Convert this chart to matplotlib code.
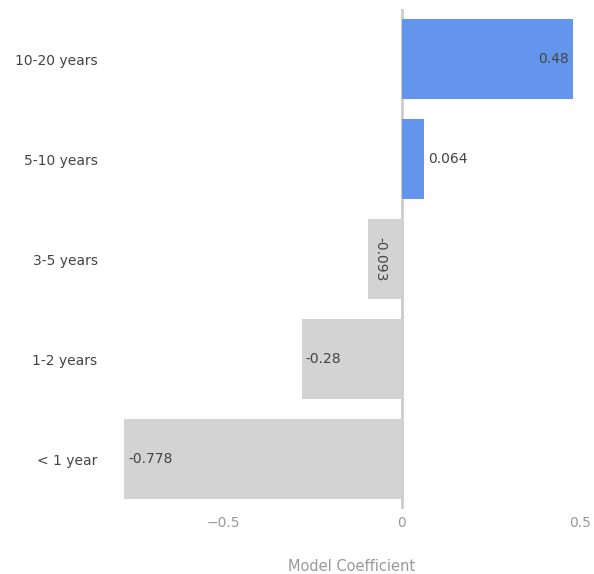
import matplotlib
matplotlib.use("Agg")
import numpy as np
from matplotlib import pyplot as plt

# data, top to bottom
categories = ['10-20 years', '5-10 years', '3-5 years', '1-2 years', '< 1 year']
coefs = [0.48, 0.064, -0.093, -0.28, -0.778]
coef_labels = ['0.48', '0.064', '-0.093', '-0.28', '-0.778']
x_ticks = [-0.5, 0, 0.5]
x_tick_labels = ['\u22120.5', '0', '0.5']

blue = '#6495ed'
grey = '#d3d3d3'
txt = '#444444'

fig = plt.figure(figsize=(5.94, 5.74), dpi=100)
ax = fig.add_axes([124 / 594, 65 / 574, 456 / 594, 500 / 574])

y = np.arange(len(categories))[::-1]
colors = [blue if c > 0 else grey for c in coefs]
ax.barh(y, coefs, height=0.8, color=colors, zorder=2)

ax.axvline(0, color='#cccccc', lw=2, zorder=1)

ax.set_xlim(-0.778, 0.5)
ax.set_ylim(-0.5, len(categories) - 0.5)

ax.set_yticks(y)
ax.set_yticklabels(categories, fontsize=10, color=txt)
ax.set_xticks(x_ticks)
ax.set_xticklabels(x_tick_labels, fontsize=10, color='#999999')
ax.tick_params(axis='y', length=0, pad=19)
ax.tick_params(axis='x', length=0, pad=5)
for s in ax.spines.values():
    s.set_visible(False)

ax.set_xlabel('Model Coefficient', fontsize=10.5, color='#999999', labelpad=21)

# value labels
for yi, c, lab in zip(y, coefs, coef_labels):
    if c >= 0.3:
        ax.annotate(lab, (c, yi), xytext=(-3, 0), textcoords='offset points',
                    ha='right', va='center', fontsize=10, color=txt, zorder=4)
    elif c > 0:
        ax.annotate(lab, (c, yi), xytext=(3, 0), textcoords='offset points',
                    ha='left', va='center', fontsize=10, color=txt, zorder=4)
    elif c > -0.15:
        ax.annotate(lab, (c, yi), xytext=(8.5, 0), textcoords='offset points',
                    ha='center', va='center', rotation=-90, fontsize=10,
                    color=txt, zorder=4)
    else:
        ax.annotate(lab, (c, yi), xytext=(3, 0), textcoords='offset points',
                    ha='left', va='center', fontsize=10, color=txt, zorder=4)

fig.savefig('out.png', dpi=100, facecolor='white')
